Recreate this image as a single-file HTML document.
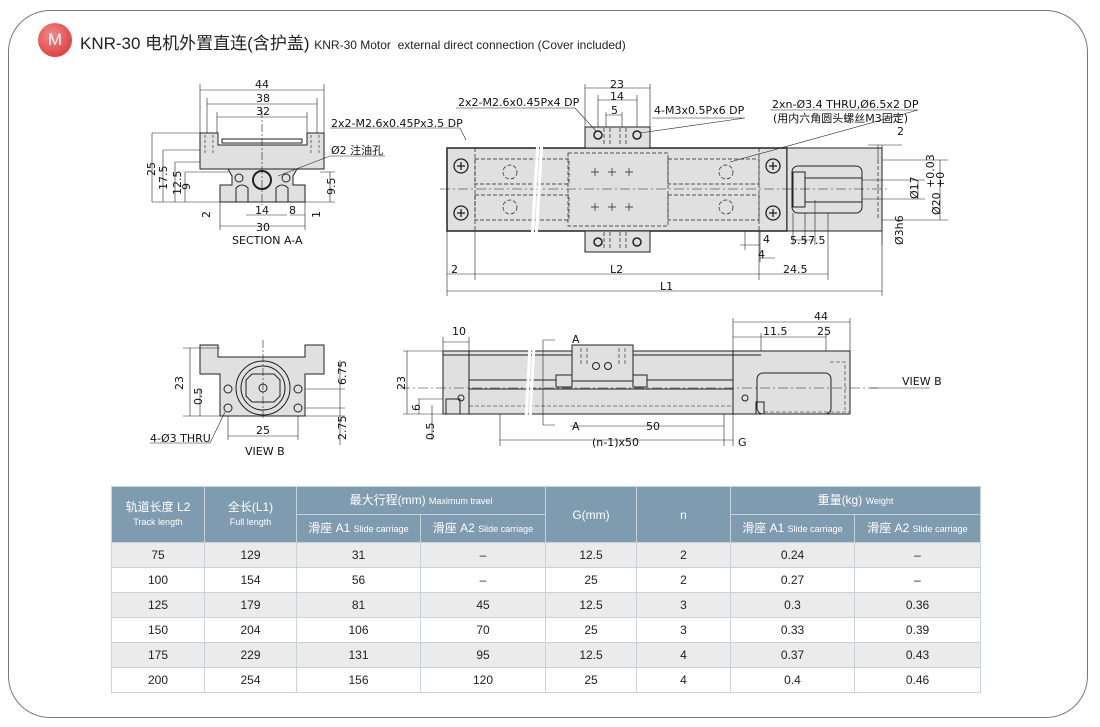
<!DOCTYPE html>
<html><head><meta charset="utf-8"><style>
body{margin:0;width:1100px;height:727px;background:#fff;position:relative;overflow:hidden;font-family:"Liberation Sans","Noto Sans CJK SC",sans-serif}
.frame{position:absolute;left:8px;top:10px;width:1078px;height:706px;border:1.5px solid #777;border-radius:42px}
.badge{position:absolute;left:38px;top:23px;width:34px;height:34px;border-radius:50%;background:radial-gradient(circle at 40% 35%,#f28a8a,#d92a2a);color:#fff;font-size:17px;text-align:center;line-height:34px}
.title{position:absolute;left:80px;top:29px;font-size:17px;color:#222;white-space:nowrap}
.title small{font-size:12px}
table{position:absolute;left:111px;top:486px;border-collapse:collapse;font-size:12px;color:#222;font-family:"Liberation Sans","Noto Sans CJK SC",sans-serif}
td,th{border:1px solid #c8d2da;text-align:center;padding:0}
th{background:#7f9bb0;color:#fff;font-weight:normal;font-size:12px;line-height:14px}
th small{font-size:9px}
tr.r td{height:24px}
tr.g td{background:#ebebeb}
svg{position:absolute;left:0;top:0}
svg text{font-family:"DejaVu Sans","Noto Sans CJK SC",sans-serif;font-size:11px;fill:#111}
</style></head><body>
<div class="frame"></div>
<div class="badge">M</div>
<div class="title">KNR-30 电机外置直连(含护盖) <small>KNR-30 Motor&nbsp; external direct connection (Cover included)</small></div>

<svg width="1100" height="480" viewBox="0 0 1100 480">
<g stroke="#222" stroke-width="1" fill="none">
<!-- SECTION A-A -->
<path d="M200 133 H218 V145 H307 V133 H324 V169 H200 Z" fill="#e0e0e0"/>
<rect x="222" y="139" width="80" height="4"/>
<path d="M228 169 L232 176 V185 H220 V202 H305 V185 H293 V176 L297 169 Z" fill="#e0e0e0"/>
<circle cx="262" cy="180" r="9" stroke-width="2"/>
<circle cx="239" cy="178" r="4"/><circle cx="286" cy="178" r="4"/>
<path d="M236 202 V188 Q242 182 248 188 V202 M276 202 V188 Q282 182 288 188 V202"/>
<g stroke-dasharray="3 2" stroke-width="0.6"><path d="M205 135 V155 M213 135 V155 M311 135 V155 M319 135 V155"/></g>
<g stroke-width="0.6">
<path d="M200 133 V84 M324 133 V84 M207 133 V98 M317 133 V98 M217 133 V112 M307 133 V112 M220 202 V230 M305 202 V230"/>
<path d="M200 90 H324 M207 104 H317 M217 117 H307 M220 226 H305 M246 215 H287 M290 215 H305"/>
<path d="M152 133 H200 M163 150 H200 M175 162 H200 M185 172 H230 M152 202 H220 M163 202 V150 M152 202 V133 M175 202 V162 M185 202 V172 M320 172 H335 M320 202 H335 M330 172 V202 M305 202 H320"/>
<path d="M330 128 H460 L466 140"/>
<path d="M330 156 H385 M330 156 L278 176"/>
<path d="M262 110 V205" stroke-dasharray="8 2 2 2"/>
</g>
</g>
<g font-size="11">
<text x="255" y="88">44</text><text x="256" y="102">38</text><text x="256" y="115">32</text>
<text x="331" y="127">2x2-M2.6x0.45Px3.5 DP</text>
<text x="331" y="154">Ø2 注油孔</text>
<text x="255" y="214">14</text><text x="289" y="214">8</text><text x="256" y="231">30</text>
<text x="232" y="244">SECTION A-A</text>
<text transform="translate(155,176) rotate(-90)">25</text>
<text transform="translate(167,190) rotate(-90)">17.5</text>
<text transform="translate(181,195) rotate(-90)">12.5</text>
<text transform="translate(190,190) rotate(-90)">9</text>
<text transform="translate(210,218) rotate(-90)">2</text>
<text transform="translate(335,195) rotate(-90)">9.5</text>
<text transform="translate(320,218) rotate(-90)">1</text>
</g>

<!-- TOP VIEW -->
<g stroke="#222" stroke-width="1" fill="none">
<rect x="447" y="148" width="340" height="83" fill="#e0e0e0" stroke-width="1.5"/>
<rect x="787" y="148" width="95" height="83" fill="#e0e0e0"/>
<rect x="585" y="127" width="65" height="21" fill="#e0e0e0"/>
<rect x="585" y="231" width="65" height="21" fill="#e0e0e0"/>
<circle cx="598" cy="135" r="4" stroke-width="1.5"/><circle cx="637" cy="135" r="4" stroke-width="1.5"/>
<circle cx="598" cy="242" r="4" stroke-width="1.5"/><circle cx="637" cy="242" r="4" stroke-width="1.5"/>
<rect x="792" y="166" width="70" height="47" rx="6"/>
<rect x="793" y="172" width="12" height="35"/>
<path d="M805 178 H862 M805 202 H862"/>
<g stroke-width="1.3">
<circle cx="461" cy="166" r="7"/><circle cx="461" cy="213" r="7"/>
<circle cx="773" cy="166" r="7"/><circle cx="773" cy="213" r="7"/>
<path d="M457 166 H465 M461 162 V170 M457 213 H465 M461 209 V217 M769 166 H777 M773 162 V170 M769 213 H777 M773 209 V217"/>
</g>
<g stroke-dasharray="4 2" stroke-width="0.7">
<rect x="475" y="159" width="94" height="25"/><rect x="475" y="195" width="94" height="25"/>
<rect x="568" y="153" width="100" height="73"/>
<rect x="668" y="159" width="91" height="25"/><rect x="668" y="195" width="91" height="25"/>
<circle cx="510" cy="172" r="7"/><circle cx="510" cy="207" r="7"/>
<circle cx="726" cy="172" r="7"/><circle cx="726" cy="207" r="7"/>
<path d="M878 160 V220 M475 148 V231 M759 148 V231 M604 128 V146 M610 128 V146 M620 128 V146 M626 128 V146 M604 232 V250 M610 232 V250 M620 232 V250 M626 232 V250"/>
</g>
<g stroke-width="0.7"><path d="M591 172 H599 M595 168 V176 M608 172 H616 M612 168 V176 M625 172 H633 M629 168 V176 M591 207 H599 M595 203 V211 M608 207 H616 M612 203 V211 M625 207 H633 M629 203 V211"/></g>
<path d="M440 189 H890" stroke-width="0.5" stroke-dasharray="10 3 2 3"/>
<path d="M538 140 L532 240 M542 140 L536 240" stroke="#fff" stroke-width="3"/>
<g stroke-width="0.6">
<path d="M447 231 V296 M475 231 V280 M759 231 V280 M828 213 V280 M882 231 V296 M447 291 H882 M475 274 H759 M759 274 H828 M447 274 H475"/>
<path d="M585 127 V84 M650 127 V84 M598 127 V95 M637 127 V95 M606 127 V112 M622 127 V112 M585 88 H650 M598 100 H637 M606 115 H622"/>
<path d="M456 108 H575 L597 132 M652 118 H745 L640 133 M770 110 H918 L730 162"/>
<path d="M868 145 H902 M878 145 V160 M882 145 V160"/>
<path d="M882 160 H948 M882 220 H948 M940 160 V220 M862 180 H925 M862 199 H925 M918 180 V199"/>
<path d="M793 213 V245 M805 213 V245 M815 200 V245 M793 240 H815 M740 245 H760 M745 231 V250 M760 231 V262 M760 258 H775"/>
<path d="M882 231 V245"/>
</g>
</g>
<g font-size="11">
<text x="610" y="88">23</text><text x="610" y="100">14</text><text x="611" y="114">5</text>
<text x="458" y="106">2x2-M2.6x0.45Px4 DP</text>
<text x="654" y="114">4-M3x0.5Px6 DP</text>
<text x="772" y="108">2xn-Ø3.4 THRU,Ø6.5x2 DP</text>
<text x="773" y="122" font-size="9.5">(用内六角圆头螺丝M3固定)</text>
<text x="897" y="135">2</text>
<text x="451" y="273">2</text><text x="610" y="273">L2</text><text x="783" y="273">24.5</text>
<text x="660" y="290">L1</text>
<text x="758" y="258">4</text><text x="763" y="243">4</text>
<text x="790" y="244">5.5</text><text x="808" y="244">7.5</text>
<text transform="translate(918,199) rotate(-90)">Ø17</text>
<text transform="translate(940,215) rotate(-90)">Ø20</text>
<text transform="translate(934,188) rotate(-90)" font-size="10">+0.03</text>
<text transform="translate(944,188) rotate(-90)" font-size="10">+0</text>
<text transform="translate(903,245) rotate(-90)">Ø3h6</text>
</g>

<!-- VIEW B -->
<g stroke="#222" stroke-width="1" fill="none">
<path d="M200 345 H218 V357 H305 V345 H324 V374 H305 V416 H220 V374 H200 Z" fill="#e0e0e0"/>
<circle cx="263" cy="388" r="27"/><circle cx="263" cy="388" r="22"/>
<path d="M252 374 H274 L280 380 V396 L274 402 H252 L246 396 V380 Z"/>
<circle cx="263" cy="388" r="4"/>
<circle cx="228" cy="389" r="4"/><circle cx="298" cy="389" r="4"/>
<circle cx="228" cy="408" r="4"/><circle cx="298" cy="408" r="4"/>
<g stroke-width="0.6">
<path d="M263 340 V420" stroke-dasharray="8 2 2 2"/>
<path d="M183 348 H220 M183 416 H220 M190 348 V416 M200 389 V416 M228 416 V440 M298 416 V440 M228 436 H298 M305 389 H345 M305 408 H345 M305 416 H345 M340 360 V445"/>
<path d="M150 443 H210 L225 412"/>
</g>
</g>
<g font-size="11">
<text x="256" y="434">25</text>
<text x="245" y="455">VIEW B</text>
<text x="150" y="442">4-Ø3 THRU</text>
<text transform="translate(183,390) rotate(-90)">23</text>
<text transform="translate(202,405) rotate(-90)">0.5</text>
<text transform="translate(346,385) rotate(-90)">6.75</text>
<text transform="translate(346,440) rotate(-90)">2.75</text>
</g>

<!-- FRONT VIEW -->
<g stroke="#222" stroke-width="1" fill="none">
<rect x="443" y="351" width="290" height="63" fill="#e0e0e0"/>
<rect x="733" y="351" width="117" height="63" fill="#e0e0e0"/>
<path d="M443 355 H761 M469 351 V414"/>
<path d="M469 380 H733 M469 389 H733"/>
<rect x="572" y="345" width="61" height="36" fill="#e0e0e0"/>
<rect x="556" y="375" width="16" height="12" fill="#e0e0e0"/>
<rect x="633" y="375" width="14" height="12" fill="#e0e0e0"/>
<circle cx="596" cy="366" r="3.5"/><circle cx="608" cy="366" r="3.5"/>
<rect x="757" y="373" width="74" height="41" rx="6"/>
<rect x="756" y="402" width="8" height="12"/>
<rect x="446" y="399" width="14" height="15"/>
<circle cx="461" cy="398" r="3"/><circle cx="745" cy="398" r="3"/>
<g stroke-dasharray="4 2" stroke-width="0.6"><path d="M469 406 H733 M764 412 H850 M830 362 H845 V410 M581 348 V365 M587 348 V365 M619 348 V365 M625 348 V365"/></g>
<path d="M400 388 H880" stroke-width="0.5" stroke-dasharray="10 3 2 3"/>
<path d="M530 345 L526 420 M534 345 L530 420" stroke="#fff" stroke-width="3"/>
<g stroke-width="0.6">
<path d="M443 351 V337 M469 351 V337 M443 342 H469 M733 351 V318 M850 351 V318 M733 322 H850 M761 351 V333 M826 351 V333 M733 337 H761 M761 337 H826"/>
<path d="M403 351 H443 M403 414 H443 M407 351 V414 M418 399 H443 M419 399 V414 M432 405 V440"/>
<path d="M543 340 V425 M543 340 H555 M543 425 H555 M500 414 V446 M724 414 V446 M733 414 V446 M500 440 H724 M724 440 H733 M570 426 H724"/>
<path d="M870 388 H930"/>
</g>
</g>
<g font-size="11">
<text x="452" y="335">10</text><text x="763" y="335">11.5</text><text x="817" y="335">25</text><text x="814" y="320">44</text>
<text x="572" y="343">A</text><text x="572" y="430">A</text>
<text x="646" y="430">50</text><text x="592" y="446">(n-1)x50</text><text x="738" y="446">G</text>
<text x="902" y="385">VIEW B</text>
<text transform="translate(405,390) rotate(-90)">23</text>
<text transform="translate(420,411) rotate(-90)">6</text>
<text transform="translate(434,440) rotate(-90)">0.5</text>
</g>
</svg>

<table>
<tr style="height:28px"><th rowspan="2" style="width:92px">轨道长度 L2<br><small>Track length</small></th><th rowspan="2" style="width:91px">全长(L1)<br><small>Full length</small></th><th colspan="2">最大行程(mm) <small>Maximum travel</small></th><th rowspan="2" style="width:90px">G(mm)</th><th rowspan="2" style="width:93px">n</th><th colspan="2">重量(kg) <small>Weight</small></th></tr>
<tr style="height:28px"><th style="width:123px">滑座 A1 <small>Slide carriage</small></th><th style="width:124px">滑座 A2 <small>Slide carriage</small></th><th style="width:123px">滑座 A1 <small>Slide carriage</small></th><th style="width:125px">滑座 A2 <small>Slide carriage</small></th></tr>
<tr class="r g"><td>75</td><td>129</td><td>31</td><td>–</td><td>12.5</td><td>2</td><td>0.24</td><td>–</td></tr>
<tr class="r"><td>100</td><td>154</td><td>56</td><td>–</td><td>25</td><td>2</td><td>0.27</td><td>–</td></tr>
<tr class="r g"><td>125</td><td>179</td><td>81</td><td>45</td><td>12.5</td><td>3</td><td>0.3</td><td>0.36</td></tr>
<tr class="r"><td>150</td><td>204</td><td>106</td><td>70</td><td>25</td><td>3</td><td>0.33</td><td>0.39</td></tr>
<tr class="r g"><td>175</td><td>229</td><td>131</td><td>95</td><td>12.5</td><td>4</td><td>0.37</td><td>0.43</td></tr>
<tr class="r"><td>200</td><td>254</td><td>156</td><td>120</td><td>25</td><td>4</td><td>0.4</td><td>0.46</td></tr>
</table>
</body></html>
